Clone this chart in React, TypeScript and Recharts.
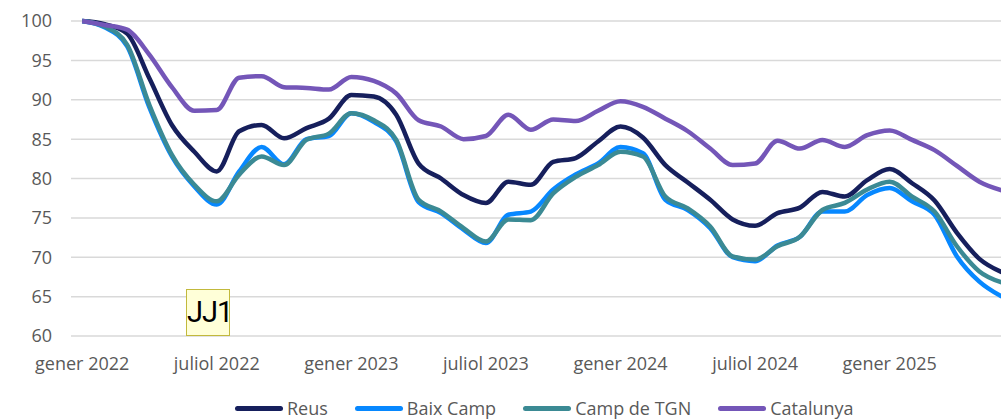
import { LineChart, Line, XAxis, YAxis, CartesianGrid, Legend } from "recharts";

const monthNames = ["gener", "febrer", "març", "abril", "maig", "juny", "juliol", "agost", "setembre", "octubre", "novembre", "desembre"];
const years = [2022, 2023, 2024, 2025];
const monthsShown = 42; // gener 2022 .. juny 2025

const reus = [100, 99.6, 98.4, 92.7, 86.8, 83.4, 80.9, 86.0, 86.8, 85.1, 86.4, 87.6, 90.6, 90.4, 88.1, 81.9, 80.0, 77.9, 76.9, 79.6, 79.2, 82.1, 82.6, 84.7, 86.6, 85.2, 81.7, 79.5, 77.3, 74.8, 74.0, 75.6, 76.3, 78.3, 77.7, 79.8, 81.2, 79.4, 77.2, 73.1, 69.8, 68.1];
const baixCamp = [100, 99.2, 96.8, 89.0, 82.8, 79.0, 76.7, 80.9, 84.0, 81.8, 85.0, 85.4, 88.3, 87.2, 84.7, 77.0, 75.6, 73.5, 71.8, 75.4, 75.8, 78.6, 80.5, 81.9, 84.0, 83.2, 77.3, 76.0, 73.7, 70.0, 69.5, 71.5, 72.6, 75.8, 75.8, 77.9, 78.8, 77.1, 75.4, 70.1, 66.9, 65.0];
const campTgn = [100, 99.3, 97.0, 89.3, 83.0, 79.2, 77.1, 80.5, 82.8, 81.7, 84.9, 85.7, 88.3, 87.4, 84.9, 77.3, 75.8, 73.7, 72.0, 74.8, 74.7, 78.1, 80.2, 81.7, 83.4, 82.8, 77.7, 76.2, 73.9, 70.1, 69.7, 71.4, 72.6, 76.0, 76.9, 78.6, 79.6, 77.7, 75.8, 71.4, 68.2, 66.8];
const catalunya = [100, 99.5, 98.9, 95.7, 91.6, 88.6, 88.7, 92.8, 93.0, 91.6, 91.5, 91.3, 92.9, 92.4, 90.8, 87.4, 86.6, 85.0, 85.4, 88.1, 86.2, 87.5, 87.3, 88.6, 89.8, 89.1, 87.6, 86.0, 83.8, 81.7, 81.9, 84.8, 83.8, 84.9, 84.0, 85.5, 86.1, 84.9, 83.6, 81.6, 79.6, 78.5];

const yTicks = [60, 65, 70, 75, 80, 85, 90, 95, 100];

const periods = years
  .flatMap((y) => monthNames.map((m) => `${m} ${y}`))
  .slice(0, monthsShown);

const data = periods.map((label, i) => ({
  label,
  reus: reus[i],
  baixCamp: baixCamp[i],
  campTgn: campTgn[i],
  catalunya: catalunya[i],
}));

const series = [
  { key: "reus", name: "Reus", color: "#161f5c" },
  { key: "baixCamp", name: "Baix Camp", color: "#0788ff" },
  { key: "campTgn", name: "Camp de TGN", color: "#3b8a94" },
  { key: "catalunya", name: "Catalunya", color: "#7456b8" },
];

const FONT = "'Open Sans', sans-serif";
const GREY = "#595959";

// keep the legend in series order (recharts reorders the payload)
function LegendRow({ payload }: any) {
  const items = series
    .map((s) => (payload || []).find((p: any) => p.dataKey === s.key))
    .filter(Boolean);
  return (
    <div style={{ height: 43, position: "relative" }}>
      <div style={{ position: "absolute", left: 235, top: 22, display: "flex", alignItems: "center" }}>
        {items.map((p: any) => (
          <div key={p.value} style={{ display: "flex", alignItems: "center", marginRight: 27 }}>
            <div style={{ width: 48, height: 5, borderRadius: 3, background: p.color, marginRight: 4 }} />
            <span style={{ fontFamily: FONT, fontSize: 18, color: GREY, lineHeight: "20px" }}>{p.value}</span>
          </div>
        ))}
      </div>
    </div>
  );
}

export default function App() {
  return (
    <div style={{ position: "absolute", left: 0, top: 0, width: 1001, height: 419, overflow: "hidden", background: "#fff" }}>
      <LineChart width={1013} height={419} data={data} margin={{ top: 21, right: 0, bottom: 0, left: 0 }}>
        <CartesianGrid vertical={false} stroke="#d9d9d9" strokeWidth={1.5} />
        <XAxis
          dataKey="label"
          interval={5}
          axisLine={false}
          tickLine={false}
          height={40}
          tickMargin={15}
          padding={{ left: 11.2, right: 11.2 }}
          tick={{ fontFamily: FONT, fontSize: 18, fill: GREY }}
        />
        <YAxis
          domain={[60, 100]}
          ticks={yTicks}
          width={71}
          axisLine={false}
          tickLine={false}
          tickMargin={13}
          tick={{ fontFamily: FONT, fontSize: 18, fill: GREY }}
        />
        <Legend verticalAlign="bottom" content={<LegendRow />} />
        {series.map((s) => (
          <Line
            key={s.key}
            type="monotone"
            dataKey={s.key}
            name={s.name}
            stroke={s.color}
            strokeWidth={4.5}
            dot={false}
            isAnimationActive={false}
          />
        ))}
      </LineChart>
      <div
        style={{
          position: "absolute",
          left: 186,
          top: 289,
          width: 44,
          height: 47,
          boxSizing: "border-box",
          background: "#ffffd8",
          border: "1.5px solid #c2b93c",
          fontFamily: "Roboto, sans-serif",
          fontWeight: 400,
          fontSize: 29,
          letterSpacing: -1,
          lineHeight: "45px",
          textAlign: "center",
          color: "#000",
        }}
      >
        JJ1
      </div>
    </div>
  );
}
